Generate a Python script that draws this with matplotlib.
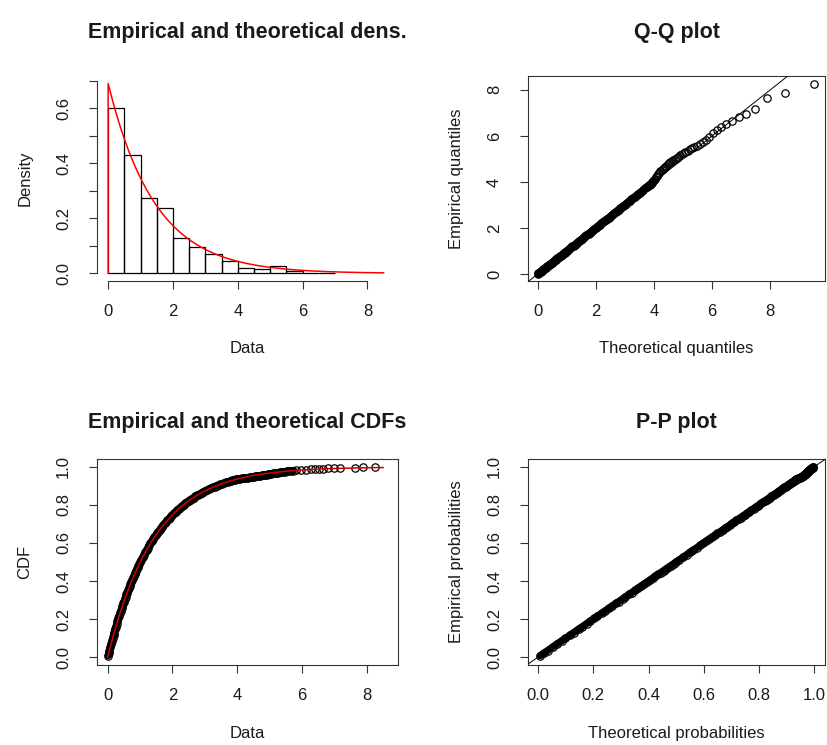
import numpy as np
import matplotlib.pyplot as plt

plt.rcParams['font.family'] = ['Liberation Sans', 'DejaVu Sans']

# density histogram (bins of width 0.5)
hist_left = [0.0, 0.5, 1.0, 1.5, 2.0, 2.5, 3.0, 3.5, 4.0, 4.5, 5.0, 5.5, 6.0, 6.5]
hist_density = [0.600, 0.432, 0.274, 0.238, 0.128, 0.095, 0.071, 0.045,
                0.020, 0.017, 0.026, 0.007, 0.003, 0.003]

# fitted exponential and sample size
rate = 0.69
n_obs = 700

# observed values (sorted) and their empirical CDF, read from the CDF / Q-Q panels
data_values = [
    0.01, 0.03, 0.05, 0.08, 0.10, 0.13, 0.15, 0.18, 0.20, 0.23,
    0.25, 0.28, 0.30, 0.33, 0.35, 0.38, 0.40, 0.43, 0.45, 0.48,
    0.50, 0.53, 0.55, 0.58, 0.60, 0.63, 0.65, 0.68, 0.70, 0.73,
    0.75, 0.78, 0.80, 0.83, 0.85, 0.88, 0.90, 0.93, 0.95, 0.98, 1.00,
    1.04, 1.08, 1.12, 1.16, 1.20, 1.24, 1.28, 1.32, 1.36, 1.40,
    1.44, 1.48, 1.52, 1.56, 1.60, 1.64, 1.68, 1.72, 1.76, 1.80,
    1.84, 1.88, 1.92, 1.96, 2.00,
    2.05, 2.10, 2.15, 2.20, 2.25, 2.30, 2.35, 2.40, 2.45, 2.50,
    2.55, 2.60, 2.65, 2.70, 2.75, 2.80, 2.85, 2.90, 2.95, 3.00,
    3.06, 3.12, 3.18, 3.24, 3.30, 3.36, 3.42, 3.48, 3.54, 3.60,
    3.66, 3.72, 3.78,
    3.82, 3.85, 3.88, 3.92, 3.95, 3.99, 4.03, 4.08, 4.14, 4.21,
    4.28, 4.34, 4.40, 4.46, 4.51, 4.56, 4.61, 4.66, 4.71, 4.76,
    4.81, 4.86, 4.91, 4.96, 5.00, 5.05, 5.10, 5.15, 5.20, 5.25,
    5.31, 5.36, 5.41, 5.46, 5.52, 5.58, 5.65, 5.72, 5.81, 5.96,
    6.11, 6.26, 6.40, 6.53, 6.65, 6.81, 6.97, 7.17, 7.64, 7.88, 8.26,
]
data_ecdf = [
    0.007, 0.020, 0.034, 0.054, 0.067, 0.086, 0.098, 0.117, 0.129, 0.147,
    0.158, 0.176, 0.187, 0.204, 0.215, 0.231, 0.241, 0.257, 0.267, 0.282,
    0.292, 0.306, 0.316, 0.330, 0.339, 0.353, 0.361, 0.375, 0.383, 0.396,
    0.404, 0.416, 0.424, 0.436, 0.444, 0.455, 0.463, 0.474, 0.481, 0.491, 0.498,
    0.512, 0.525, 0.538, 0.551, 0.563, 0.575, 0.587, 0.598, 0.609, 0.619,
    0.630, 0.640, 0.650, 0.659, 0.668, 0.677, 0.686, 0.695, 0.703, 0.711,
    0.719, 0.727, 0.734, 0.741, 0.748,
    0.757, 0.765, 0.773, 0.781, 0.788, 0.795, 0.802, 0.809, 0.816, 0.822,
    0.828, 0.834, 0.839, 0.845, 0.850, 0.855, 0.860, 0.865, 0.869, 0.874,
    0.879, 0.884, 0.889, 0.893, 0.897, 0.902, 0.906, 0.909, 0.913, 0.917,
    0.920, 0.923, 0.926,
    0.9286, 0.9300, 0.9314, 0.9329, 0.9343, 0.9357, 0.9371, 0.9386, 0.9400, 0.9414,
    0.9429, 0.9443, 0.9457, 0.9471, 0.9486, 0.9500, 0.9514, 0.9529, 0.9543, 0.9557,
    0.9571, 0.9586, 0.9600, 0.9614, 0.9629, 0.9643, 0.9657, 0.9671, 0.9686, 0.9700,
    0.9714, 0.9729, 0.9743, 0.9757, 0.9771, 0.9786, 0.9800, 0.9814, 0.9829, 0.9843,
    0.9857, 0.9871, 0.9886, 0.9900, 0.9914, 0.9929, 0.9943, 0.9957, 0.9971, 0.9986, 1.0000,
]
assert len(data_values) == len(data_ecdf)

vals = np.array(data_values)
ecdf = np.array(data_ecdf)
theo_q = -np.log(1 - ecdf * n_obs / (n_obs + 1)) / rate   # theoretical quantiles
theo_p = 1 - np.exp(-rate * vals)                          # theoretical probabilities

TXT = '#1a1a1a'
W, H = 827, 745
fig = plt.figure(figsize=(W / 100, H / 100), dpi=100)


def add_axes(x0, y0, x1, y1):
    return fig.add_axes([x0 / W, 1 - y1 / H, (x1 - x0) / W, (y1 - y0) / H])


def style(ax):
    for s in ax.spines.values():
        s.set_linewidth(0.8)
        s.set_color('#333333')
    ax.tick_params(direction='out', length=5.8, width=0.8, labelsize=12,
                   colors='#333333', labelcolor=TXT)
    ax.tick_params(axis='x', pad=11)
    ax.tick_params(axis='y', pad=13)
    for lab in ax.get_yticklabels():
        lab.set_rotation(90)
        lab.set_va('center')


def labels(ax, title, xlabel, ylabel, title_y):
    ax.set_xlabel(xlabel, fontsize=12, color=TXT)
    ax.set_ylabel(ylabel, fontsize=12, color=TXT)
    ax.xaxis.set_label_coords(0.5, -0.295)
    ax.yaxis.set_label_coords(-0.215, 0.5)
    pos = ax.get_position()
    fig.text(pos.x0 + pos.width / 2, 1 - title_y / H, title, ha='center',
             va='baseline', fontsize=15.5, fontweight='bold', color=TXT)


def points(ax, x, y, solid_upto):
    # overlapping markers of the dense part merge into a solid band
    m = vals <= solid_upto
    ax.plot(x[m], y[m], color='black', lw=5.2, solid_capstyle='round', zorder=2)
    ax.plot(x, y, linestyle='none', marker='o', ms=5.3, mfc='none', mec='black',
            mew=0.9, zorder=3)


x_curve = np.linspace(0, 8.5, 400)

# 1. empirical and theoretical densities
ax1 = add_axes(97, 76, 398, 281)
ax1.bar(hist_left, hist_density, width=0.5, align='edge', fill=False,
        edgecolor='black', linewidth=0.9)
ax1.plot(np.r_[0, x_curve], np.r_[0, rate * np.exp(-rate * x_curve)], color='red', lw=1.1)
ax1.set_xlim(-0.344, 8.944)
ax1.set_ylim(-0.0276, 0.7176)
ax1.spines['top'].set_visible(False)
ax1.spines['right'].set_visible(False)
ax1.spines['left'].set_bounds(0, 0.7)
ax1.spines['bottom'].set_bounds(0, 8)
ax1.set_xticks([0, 2, 4, 6, 8])
ax1.set_yticks(np.round(np.arange(0, 0.71, 0.1), 1))
ax1.set_yticklabels(['0.0', '', '0.2', '', '0.4', '', '0.6', ''])
style(ax1)
labels(ax1, 'Empirical and theoretical dens.', 'Data', 'Density', 38)

# 2. Q-Q plot
ax2 = add_axes(528, 76, 825, 281)
points(ax2, theo_q, vals, 3.95)
ax2.axline((0, 0), slope=1, color='black', lw=0.7, zorder=4)
ax2.set_xlim(-0.33, 9.88)
ax2.set_ylim(-0.3, 8.6)
ax2.set_xticks([0, 2, 4, 6, 8])
ax2.set_yticks([0, 2, 4, 6, 8])
style(ax2)
labels(ax2, 'Q-Q plot', 'Theoretical quantiles', 'Empirical quantiles', 38)

# 3. empirical and theoretical CDFs
ax3 = add_axes(97, 459, 398, 665)
points(ax3, vals, ecdf, 5.72)
ax3.plot(x_curve, 1 - np.exp(-rate * x_curve), color='#d00000', lw=1.1, zorder=5)
ax3.set_xlim(-0.33, 8.96)
ax3.set_ylim(-0.042, 1.042)
ax3.set_xticks([0, 2, 4, 6, 8])
ax3.set_yticks([0.0, 0.2, 0.4, 0.6, 0.8, 1.0])
ax3.set_yticklabels(['0.0', '0.2', '0.4', '0.6', '0.8', '1.0'])
style(ax3)
labels(ax3, 'Empirical and theoretical CDFs', 'Data', 'CDF', 428)

# 4. P-P plot
ax4 = add_axes(528, 459, 825, 665)
points(ax4, theo_p, ecdf, 9.0)
ax4.axline((0, 0), slope=1, color='black', lw=0.7, zorder=4)
ax4.set_xlim(-0.037, 1.04)
ax4.set_ylim(-0.042, 1.042)
ticks = [0.0, 0.2, 0.4, 0.6, 0.8, 1.0]
ax4.set_xticks(ticks)
ax4.set_xticklabels(['0.0', '0.2', '0.4', '0.6', '0.8', '1.0'])
ax4.set_yticks(ticks)
ax4.set_yticklabels(['0.0', '0.2', '0.4', '0.6', '0.8', '1.0'])
style(ax4)
labels(ax4, 'P-P plot', 'Theoretical probabilities', 'Empirical probabilities', 428)

fig.savefig('out.png', dpi=100, facecolor='white')
